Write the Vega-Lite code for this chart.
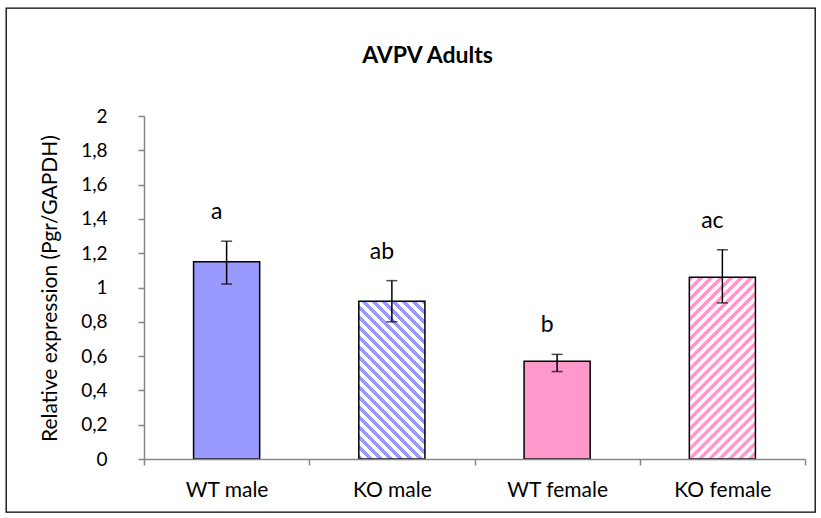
{
  "$schema": "https://vega.github.io/schema/vega-lite/v6.json",
  "width": 809,
  "height": 504,
  "autosize": {"type": "none"},
  "padding": {"left": 6, "top": 8, "right": 6, "bottom": 6},
  "background": "white",
  "title": {
    "text": "AVPV Adults",
    "font": "Lato",
    "fontSize": 23,
    "fontWeight": "bold",
    "color": "black",
    "anchor": "middle",
    "frame": "group",
    "dx": 17,
    "offset": -78,
    "baseline": "alphabetic"
  },
  "data": {
    "values": [
      {"group": "WT male", "mean": 1.15, "lower": 1.02, "upper": 1.27, "letter": "a"},
      {"group": "KO male", "mean": 0.92, "lower": 0.80, "upper": 1.04, "letter": "ab"},
      {"group": "WT female", "mean": 0.57, "lower": 0.51, "upper": 0.61, "letter": "b"},
      {"group": "KO female", "mean": 1.06, "lower": 0.91, "upper": 1.22, "letter": "ac"}
    ]
  },
  "encoding": {
    "x": {
      "field": "group",
      "type": "nominal",
      "sort": null,
      "scale": {"range": [138, 799], "paddingInner": 0, "paddingOuter": 0},
      "axis": {
        "title": null,
        "orient": "bottom",
        "offset": -53,
        "domainColor": "#868686",
        "domainWidth": 1.5,
        "tickColor": "#868686",
        "tickWidth": 1.5,
        "tickSize": 6,
        "tickBand": "extent",
        "labelAngle": 0,
        "labelFont": "Lato",
        "labelFontSize": 21,
        "labelColor": "black",
        "labelBaseline": "alphabetic",
        "labelPadding": 31,
        "zindex": 1
      }
    }
  },
  "layer": [
    {
      "mark": {"type": "bar", "width": {"band": 0.4}, "stroke": "black", "strokeWidth": 1.5},
      "encoding": {
        "y": {
          "field": "mean",
          "type": "quantitative",
          "scale": {"domain": [0, 2], "range": [451, 108], "nice": false, "zero": false},
          "axis": {
            "title": "Relative expression (Pgr/GAPDH)",
            "offset": -138,
            "values": [0, 0.2, 0.4, 0.6, 0.8, 1, 1.2, 1.4, 1.6, 1.8, 2],
            "format": ".1~f",
            "labelExpr": "replace(datum.label, '.', ',')",
            "grid": false,
            "domainColor": "#868686",
            "domainWidth": 1.5,
            "tickColor": "#868686",
            "tickWidth": 1.5,
            "tickSize": 6,
            "labelPadding": 31,
            "labelFont": "Lato",
            "labelFontSize": 19,
            "labelColor": "black",
            "titleFont": "Lato",
            "titleFontSize": 21,
            "titleFontWeight": "normal",
            "titleColor": "black",
            "titleAngle": -90,
            "titleX": -94,
            "titleY": 280,
            "titleBaseline": "middle"
          }
        },
        "fill": {
          "condition": [
            {
              "test": "datum.group === 'KO male'",
              "value": {
                "gradient": "linear",
                "x1": 0, "y1": 1, "x2": 0.5056, "y2": -0.2071,
                "stops": [
                  {"offset": 0, "color": "#9999FF"}, {"offset": 0.0201, "color": "#9999FF"}, {"offset": 0.0223, "color": "#FFFFFF"}, {"offset": 0.0424, "color": "#FFFFFF"},
                  {"offset": 0.0446, "color": "#9999FF"}, {"offset": 0.0647, "color": "#9999FF"}, {"offset": 0.0669, "color": "#FFFFFF"}, {"offset": 0.0870, "color": "#FFFFFF"},
                  {"offset": 0.0892, "color": "#9999FF"}, {"offset": 0.1093, "color": "#9999FF"}, {"offset": 0.1115, "color": "#FFFFFF"}, {"offset": 0.1316, "color": "#FFFFFF"},
                  {"offset": 0.1338, "color": "#9999FF"}, {"offset": 0.1539, "color": "#9999FF"}, {"offset": 0.1561, "color": "#FFFFFF"}, {"offset": 0.1762, "color": "#FFFFFF"},
                  {"offset": 0.1784, "color": "#9999FF"}, {"offset": 0.1985, "color": "#9999FF"}, {"offset": 0.2007, "color": "#FFFFFF"}, {"offset": 0.2208, "color": "#FFFFFF"},
                  {"offset": 0.2230, "color": "#9999FF"}, {"offset": 0.2431, "color": "#9999FF"}, {"offset": 0.2453, "color": "#FFFFFF"}, {"offset": 0.2654, "color": "#FFFFFF"},
                  {"offset": 0.2676, "color": "#9999FF"}, {"offset": 0.2877, "color": "#9999FF"}, {"offset": 0.2899, "color": "#FFFFFF"}, {"offset": 0.3100, "color": "#FFFFFF"},
                  {"offset": 0.3122, "color": "#9999FF"}, {"offset": 0.3323, "color": "#9999FF"}, {"offset": 0.3345, "color": "#FFFFFF"}, {"offset": 0.3546, "color": "#FFFFFF"},
                  {"offset": 0.3568, "color": "#9999FF"}, {"offset": 0.3769, "color": "#9999FF"}, {"offset": 0.3791, "color": "#FFFFFF"}, {"offset": 0.3992, "color": "#FFFFFF"},
                  {"offset": 0.4014, "color": "#9999FF"}, {"offset": 0.4215, "color": "#9999FF"}, {"offset": 0.4237, "color": "#FFFFFF"}, {"offset": 0.4438, "color": "#FFFFFF"},
                  {"offset": 0.4460, "color": "#9999FF"}, {"offset": 0.4661, "color": "#9999FF"}, {"offset": 0.4683, "color": "#FFFFFF"}, {"offset": 0.4884, "color": "#FFFFFF"},
                  {"offset": 0.4906, "color": "#9999FF"}, {"offset": 0.5107, "color": "#9999FF"}, {"offset": 0.5129, "color": "#FFFFFF"}, {"offset": 0.5330, "color": "#FFFFFF"},
                  {"offset": 0.5352, "color": "#9999FF"}, {"offset": 0.5553, "color": "#9999FF"}, {"offset": 0.5575, "color": "#FFFFFF"}, {"offset": 0.5776, "color": "#FFFFFF"},
                  {"offset": 0.5798, "color": "#9999FF"}, {"offset": 0.5999, "color": "#9999FF"}, {"offset": 0.6021, "color": "#FFFFFF"}, {"offset": 0.6222, "color": "#FFFFFF"},
                  {"offset": 0.6244, "color": "#9999FF"}, {"offset": 0.6445, "color": "#9999FF"}, {"offset": 0.6467, "color": "#FFFFFF"}, {"offset": 0.6668, "color": "#FFFFFF"},
                  {"offset": 0.6690, "color": "#9999FF"}, {"offset": 0.6891, "color": "#9999FF"}, {"offset": 0.6913, "color": "#FFFFFF"}, {"offset": 0.7114, "color": "#FFFFFF"},
                  {"offset": 0.7136, "color": "#9999FF"}, {"offset": 0.7337, "color": "#9999FF"}, {"offset": 0.7359, "color": "#FFFFFF"}, {"offset": 0.7560, "color": "#FFFFFF"},
                  {"offset": 0.7582, "color": "#9999FF"}, {"offset": 0.7783, "color": "#9999FF"}, {"offset": 0.7805, "color": "#FFFFFF"}, {"offset": 0.8006, "color": "#FFFFFF"},
                  {"offset": 0.8028, "color": "#9999FF"}, {"offset": 0.8229, "color": "#9999FF"}, {"offset": 0.8251, "color": "#FFFFFF"}, {"offset": 0.8452, "color": "#FFFFFF"},
                  {"offset": 0.8474, "color": "#9999FF"}, {"offset": 0.8675, "color": "#9999FF"}, {"offset": 0.8697, "color": "#FFFFFF"}, {"offset": 0.8898, "color": "#FFFFFF"},
                  {"offset": 0.8920, "color": "#9999FF"}, {"offset": 0.9121, "color": "#9999FF"}, {"offset": 0.9143, "color": "#FFFFFF"}, {"offset": 0.9344, "color": "#FFFFFF"},
                  {"offset": 0.9366, "color": "#9999FF"}, {"offset": 0.9567, "color": "#9999FF"}, {"offset": 0.9589, "color": "#FFFFFF"}, {"offset": 0.9790, "color": "#FFFFFF"},
                  {"offset": 0.9812, "color": "#9999FF"}, {"offset": 1, "color": "#9999FF"}
                ]
              }
            },
            {
              "test": "datum.group === 'KO female'",
              "value": {
                "gradient": "linear",
                "x1": 0, "y1": 0, "x2": 0.4379, "y2": 1.2044,
                "stops": [
                  {"offset": 0, "color": "#FF99CC"}, {"offset": 0.0181, "color": "#FF99CC"}, {"offset": 0.0202, "color": "#FFFFFF"}, {"offset": 0.0383, "color": "#FFFFFF"},
                  {"offset": 0.0403, "color": "#FF99CC"}, {"offset": 0.0584, "color": "#FF99CC"}, {"offset": 0.0605, "color": "#FFFFFF"}, {"offset": 0.0786, "color": "#FFFFFF"},
                  {"offset": 0.0806, "color": "#FF99CC"}, {"offset": 0.0987, "color": "#FF99CC"}, {"offset": 0.1008, "color": "#FFFFFF"}, {"offset": 0.1189, "color": "#FFFFFF"},
                  {"offset": 0.1209, "color": "#FF99CC"}, {"offset": 0.1390, "color": "#FF99CC"}, {"offset": 0.1411, "color": "#FFFFFF"}, {"offset": 0.1592, "color": "#FFFFFF"},
                  {"offset": 0.1612, "color": "#FF99CC"}, {"offset": 0.1793, "color": "#FF99CC"}, {"offset": 0.1814, "color": "#FFFFFF"}, {"offset": 0.1995, "color": "#FFFFFF"},
                  {"offset": 0.2015, "color": "#FF99CC"}, {"offset": 0.2196, "color": "#FF99CC"}, {"offset": 0.2217, "color": "#FFFFFF"}, {"offset": 0.2398, "color": "#FFFFFF"},
                  {"offset": 0.2418, "color": "#FF99CC"}, {"offset": 0.2599, "color": "#FF99CC"}, {"offset": 0.2620, "color": "#FFFFFF"}, {"offset": 0.2801, "color": "#FFFFFF"},
                  {"offset": 0.2821, "color": "#FF99CC"}, {"offset": 0.3002, "color": "#FF99CC"}, {"offset": 0.3023, "color": "#FFFFFF"}, {"offset": 0.3204, "color": "#FFFFFF"},
                  {"offset": 0.3224, "color": "#FF99CC"}, {"offset": 0.3405, "color": "#FF99CC"}, {"offset": 0.3426, "color": "#FFFFFF"}, {"offset": 0.3607, "color": "#FFFFFF"},
                  {"offset": 0.3627, "color": "#FF99CC"}, {"offset": 0.3808, "color": "#FF99CC"}, {"offset": 0.3829, "color": "#FFFFFF"}, {"offset": 0.4010, "color": "#FFFFFF"},
                  {"offset": 0.4030, "color": "#FF99CC"}, {"offset": 0.4211, "color": "#FF99CC"}, {"offset": 0.4232, "color": "#FFFFFF"}, {"offset": 0.4413, "color": "#FFFFFF"},
                  {"offset": 0.4433, "color": "#FF99CC"}, {"offset": 0.4614, "color": "#FF99CC"}, {"offset": 0.4635, "color": "#FFFFFF"}, {"offset": 0.4816, "color": "#FFFFFF"},
                  {"offset": 0.4836, "color": "#FF99CC"}, {"offset": 0.5017, "color": "#FF99CC"}, {"offset": 0.5038, "color": "#FFFFFF"}, {"offset": 0.5219, "color": "#FFFFFF"},
                  {"offset": 0.5239, "color": "#FF99CC"}, {"offset": 0.5420, "color": "#FF99CC"}, {"offset": 0.5441, "color": "#FFFFFF"}, {"offset": 0.5622, "color": "#FFFFFF"},
                  {"offset": 0.5642, "color": "#FF99CC"}, {"offset": 0.5823, "color": "#FF99CC"}, {"offset": 0.5844, "color": "#FFFFFF"}, {"offset": 0.6025, "color": "#FFFFFF"},
                  {"offset": 0.6045, "color": "#FF99CC"}, {"offset": 0.6226, "color": "#FF99CC"}, {"offset": 0.6247, "color": "#FFFFFF"}, {"offset": 0.6428, "color": "#FFFFFF"},
                  {"offset": 0.6448, "color": "#FF99CC"}, {"offset": 0.6629, "color": "#FF99CC"}, {"offset": 0.6650, "color": "#FFFFFF"}, {"offset": 0.6831, "color": "#FFFFFF"},
                  {"offset": 0.6851, "color": "#FF99CC"}, {"offset": 0.7032, "color": "#FF99CC"}, {"offset": 0.7053, "color": "#FFFFFF"}, {"offset": 0.7234, "color": "#FFFFFF"},
                  {"offset": 0.7254, "color": "#FF99CC"}, {"offset": 0.7435, "color": "#FF99CC"}, {"offset": 0.7456, "color": "#FFFFFF"}, {"offset": 0.7637, "color": "#FFFFFF"},
                  {"offset": 0.7657, "color": "#FF99CC"}, {"offset": 0.7838, "color": "#FF99CC"}, {"offset": 0.7859, "color": "#FFFFFF"}, {"offset": 0.8040, "color": "#FFFFFF"},
                  {"offset": 0.8060, "color": "#FF99CC"}, {"offset": 0.8241, "color": "#FF99CC"}, {"offset": 0.8262, "color": "#FFFFFF"}, {"offset": 0.8443, "color": "#FFFFFF"},
                  {"offset": 0.8463, "color": "#FF99CC"}, {"offset": 0.8644, "color": "#FF99CC"}, {"offset": 0.8665, "color": "#FFFFFF"}, {"offset": 0.8846, "color": "#FFFFFF"},
                  {"offset": 0.8866, "color": "#FF99CC"}, {"offset": 0.9047, "color": "#FF99CC"}, {"offset": 0.9068, "color": "#FFFFFF"}, {"offset": 0.9249, "color": "#FFFFFF"},
                  {"offset": 0.9269, "color": "#FF99CC"}, {"offset": 0.9450, "color": "#FF99CC"}, {"offset": 0.9471, "color": "#FFFFFF"}, {"offset": 0.9652, "color": "#FFFFFF"},
                  {"offset": 0.9672, "color": "#FF99CC"}, {"offset": 0.9853, "color": "#FF99CC"}, {"offset": 0.9874, "color": "#FFFFFF"}, {"offset": 1, "color": "#FFFFFF"}
                ]
              }
            },
            {"test": "datum.group === 'WT female'", "value": "#FF99CC"}
          ],
          "value": "#9999FF"
        }
      }
    },
    {
      "mark": {"type": "rule", "color": "black", "strokeWidth": 1.5},
      "encoding": {
        "y": {"field": "lower", "type": "quantitative"},
        "y2": {"field": "upper"}
      }
    },
    {
      "mark": {"type": "tick", "color": "black", "thickness": 1.5, "size": 11},
      "encoding": {
        "y": {"field": "upper", "type": "quantitative"}
      }
    },
    {
      "mark": {"type": "tick", "color": "black", "thickness": 1.5, "size": 11},
      "encoding": {
        "y": {"field": "lower", "type": "quantitative"}
      }
    },
    {
      "mark": {"type": "text", "font": "Lato", "fontSize": 23, "color": "black", "baseline": "alphabetic", "dy": -22, "dx": -10},
      "encoding": {
        "y": {"field": "upper", "type": "quantitative"},
        "text": {"field": "letter"}
      }
    }
  ],
  "config": {
    "view": {"stroke": "black", "strokeWidth": 1.3}
  }
}
